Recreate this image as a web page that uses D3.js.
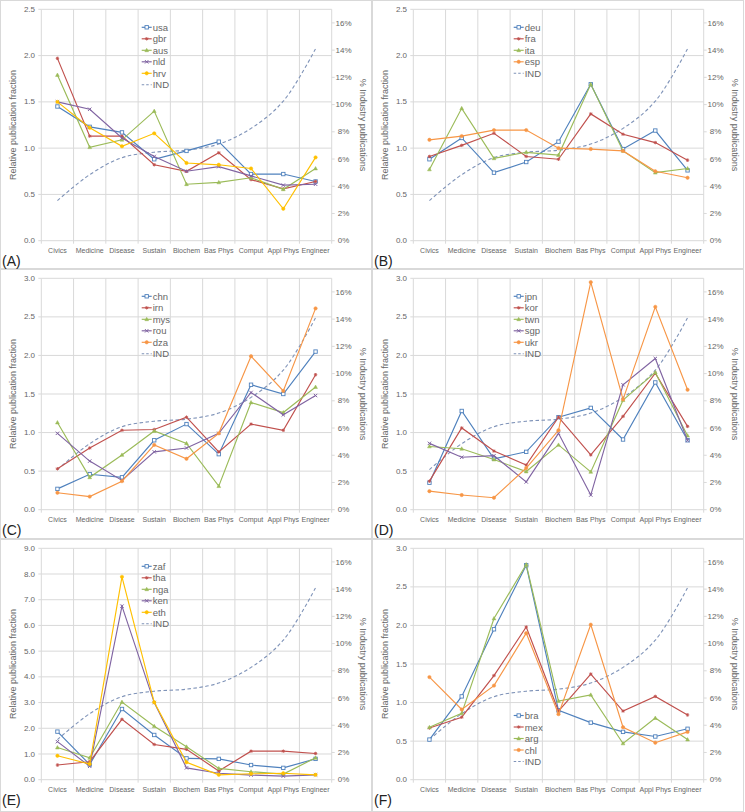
<!DOCTYPE html>
<html><head><meta charset="utf-8">
<script src="https://cdn.jsdelivr.net/npm/d3@7"></script>
<style>
html,body{margin:0;padding:0;background:#fff;}
svg{display:block;font-family:"Liberation Sans",Arial,sans-serif;}
</style></head>
<body><svg id="chart" width="745" height="812"></svg>
<script>
// ---------- data ----------
const categories = ["Civics","Medicine","Disease","Sustain","Biochem","Bas Phys","Comput","Appl Phys","Engineer"];
const indShare = [2.95, 4.85, 6.1, 6.5, 6.65, 7.1, 8.25, 10.25, 14.1]; // % industry publications

// Panel A
const usa = [1.45, 1.23, 1.17, 0.88, 0.97, 1.07, 0.72, 0.72, 0.64];
const gbr = [1.97, 1.13, 1.13, 0.82, 0.75, 0.95, 0.66, 0.56, 0.64];
const aus = [1.79, 1.01, 1.09, 1.40, 0.61, 0.63, 0.68, 0.555, 0.78];
const nld = [1.50, 1.42, 1.11, 0.91, 0.75, 0.80, 0.70, 0.60, 0.61];
const hrv = [1.50, 1.22, 1.02, 1.16, 0.84, 0.82, 0.78, 0.345, 0.90];
// Panel B
const deu = [0.88, 1.11, 0.735, 0.85, 1.07, 1.69, 0.99, 1.19, 0.76];
const fra = [0.91, 1.03, 1.16, 0.91, 0.88, 1.37, 1.15, 1.06, 0.87];
const ita = [0.77, 1.43, 0.89, 0.955, 0.925, 1.69, 0.97, 0.735, 0.78];
const esp = [1.09, 1.13, 1.195, 1.195, 1.00, 0.99, 0.97, 0.75, 0.68];
// Panel C
const chn = [0.27, 0.46, 0.42, 0.90, 1.11, 0.72, 1.62, 1.50, 2.05];
const irn = [0.53, 0.80, 1.03, 1.04, 1.20, 0.75, 1.11, 1.03, 1.75];
const mys = [1.13, 0.42, 0.71, 1.02, 0.86, 0.305, 1.39, 1.26, 1.59];
const rou = [0.99, 0.63, 0.38, 0.75, 0.80, 0.99, 1.52, 1.23, 1.48];
const dza = [0.22, 0.17, 0.37, 0.84, 0.66, 0.99, 1.99, 1.54, 2.61];
// Panel D
const jpn = [0.35, 1.28, 0.66, 0.75, 1.20, 1.32, 0.91, 1.65, 0.90];
const kor = [0.37, 1.06, 0.76, 0.58, 1.20, 0.71, 1.21, 1.77, 1.08];
const twn = [0.82, 0.79, 0.65, 0.495, 0.84, 0.49, 1.42, 1.78, 0.96];
const sgp = [0.86, 0.68, 0.70, 0.36, 0.99, 0.19, 1.62, 1.96, 0.90];
const ukr = [0.24, 0.19, 0.155, 0.54, 1.03, 2.95, 1.43, 2.63, 1.555];
// Panel E
const zaf = [1.87, 0.59, 2.75, 1.74, 0.83, 0.81, 0.57, 0.46, 0.81];
const tha = [0.57, 0.70, 2.35, 1.37, 1.18, 0.34, 1.11, 1.11, 1.02];
const nga = [1.25, 0.85, 3.02, 2.08, 1.28, 0.44, 0.31, 0.22, 0.85];
const ken = [1.48, 0.52, 6.75, 3.00, 0.46, 0.25, 0.18, 0.14, 0.19];
const eth = [0.93, 0.61, 7.89, 3.01, 0.68, 0.19, 0.23, 0.25, 0.19];
// Panel F
const bra = [0.52, 1.08, 1.95, 2.78, 0.90, 0.74, 0.62, 0.56, 0.66];
const mex = [0.67, 0.81, 1.35, 1.98, 0.89, 1.37, 0.89, 1.08, 0.84];
const arg = [0.68, 0.86, 2.09, 2.79, 1.02, 1.10, 0.47, 0.80, 0.52];
const chl = [1.33, 0.91, 1.22, 1.90, 0.85, 2.01, 0.68, 0.48, 0.62];

const leftTicksAB = [0, 0.5, 1.0, 1.5, 2.0, 2.5];
const leftTicks3 = [0, 0.5, 1.0, 1.5, 2.0, 2.5, 3.0];
const leftTicksE = [0, 1, 2, 3, 4, 5, 6, 7, 8, 9];
const rightTicks = [0, 2, 4, 6, 8, 10, 12, 14, 16];

// ---------- styling ----------
const C = {blue:"#4F81BD", red:"#C0504D", green:"#9BBB59", purple:"#8064A2", yellow:"#FFC000", orange:"#F79646", ind:"#7F93B8"};
const grid = "#d9d9d9", txt = "#666666";

const panels = [
  {label:"(A)", col:0, row:0, ticks:leftTicksAB, legendY:27.3, series:[
    ["usa", usa, C.blue, "square"], ["gbr", gbr, C.red, "plus"], ["aus", aus, C.green, "triangle"],
    ["nld", nld, C.purple, "cross"], ["hrv", hrv, C.yellow, "circle"]]},
  {label:"(B)", col:1, row:0, ticks:leftTicksAB, legendY:27.3, series:[
    ["deu", deu, C.blue, "square"], ["fra", fra, C.red, "plus"], ["ita", ita, C.green, "triangle"],
    ["esp", esp, C.orange, "circle"]]},
  {label:"(C)", col:0, row:1, ticks:leftTicks3, legendY:27.3, series:[
    ["chn", chn, C.blue, "square"], ["irn", irn, C.red, "plus"], ["mys", mys, C.green, "triangle"],
    ["rou", rou, C.purple, "cross"], ["dza", dza, C.orange, "circle"]]},
  {label:"(D)", col:1, row:1, ticks:leftTicks3, legendY:27.3, series:[
    ["jpn", jpn, C.blue, "square"], ["kor", kor, C.red, "plus"], ["twn", twn, C.green, "triangle"],
    ["sgp", sgp, C.purple, "cross"], ["ukr", ukr, C.orange, "circle"]]},
  {label:"(E)", col:0, row:2, ticks:leftTicksE, legendY:27.3, series:[
    ["zaf", zaf, C.blue, "square"], ["tha", tha, C.red, "plus"], ["nga", nga, C.green, "triangle"],
    ["ken", ken, C.purple, "cross"], ["eth", eth, C.yellow, "circle"]]},
  {label:"(F)", col:1, row:2, ticks:leftTicks3, legendY:176.5, series:[
    ["bra", bra, C.blue, "square"], ["mex", mex, C.red, "plus"], ["arg", arg, C.green, "triangle"],
    ["chl", chl, C.orange, "circle"]]}
];

const svg = d3.select("#chart");
const colX = [0, 372], rowY = [0, 269, 539], rowH = [269, 270, 273];

// panel borders
panels.forEach(p => {
  svg.append("rect").attr("x", colX[p.col] + 0.5).attr("y", rowY[p.row] + 0.5)
    .attr("width", 371).attr("height", rowH[p.row] - 1)
    .attr("fill", "none").attr("stroke", grid).attr("stroke-width", 1);
});

function marker(g, type, x, y, color) {
  const s = 1.7;
  if (type === "square") {
    g.append("rect").attr("x", x - s).attr("y", y - s).attr("width", 2*s).attr("height", 2*s)
      .attr("fill", "#fff").attr("stroke", color).attr("stroke-width", 0.9);
  } else if (type === "plus") {
    g.append("path").attr("d", `M${x-s},${y}H${x+s}M${x},${y-s}V${y+s}M${x-1.2},${y-1.2}L${x+1.2},${y+1.2}M${x-1.2},${y+1.2}L${x+1.2},${y-1.2}`)
      .attr("stroke", color).attr("stroke-width", 0.9);
  } else if (type === "triangle") {
    g.append("path").attr("d", `M${x},${y-2}L${x+1.9},${y+1.4}L${x-1.9},${y+1.4}Z`)
      .attr("fill", color).attr("stroke", color).attr("stroke-width", 0.5);
  } else if (type === "cross") {
    g.append("path").attr("d", `M${x-s},${y-s}L${x+s},${y+s}M${x-s},${y+s}L${x+s},${y-s}`)
      .attr("stroke", color).attr("stroke-width", 1);
  } else {
    g.append("circle").attr("cx", x).attr("cy", y).attr("r", 1.7)
      .attr("fill", color).attr("stroke", color).attr("stroke-width", 0.5);
  }
}

panels.forEach(p => {
  const ox = colX[p.col], oy = rowY[p.row];
  const L = ox + 41.3, R = ox + 331.7, T = oy + 9.3, B = oy + 240.7;
  const g = svg.append("g");
  const yMax = p.ticks[p.ticks.length - 1];
  const x = d3.scaleBand().domain(categories).range([L, R]).padding(0);
  const y = d3.scaleLinear().domain([0, yMax]).range([B, T]);
  const y2 = d3.scaleLinear().domain([0, 17]).range([B, T]);

  // horizontal gridlines
  g.append("g").selectAll("line").data(p.ticks).join("line")
    .attr("x1", L).attr("x2", R).attr("y1", d => y(d)).attr("y2", d => y(d))
    .attr("stroke", grid).attr("stroke-width", 1);
  // vertical gridlines at category boundaries
  const bounds = categories.map(c => x(c)).concat([R]);
  g.append("g").selectAll("line").data(bounds).join("line")
    .attr("x1", d => d).attr("x2", d => d).attr("y1", T).attr("y2", B + 3)
    .attr("stroke", grid).attr("stroke-width", 1);

  // left axis labels
  const fmt = d3.format(".1f");
  g.append("g").selectAll("text").data(p.ticks).join("text")
    .attr("x", ox + 35).attr("y", d => y(d) + 2.6).attr("text-anchor", "end")
    .attr("font-size", 8).attr("fill", txt).text(d => fmt(d));
  // right axis labels
  g.append("g").selectAll("text").data(rightTicks).join("text")
    .attr("x", ox + 343.5).attr("y", d => y2(d) + 2.6).attr("text-anchor", "middle")
    .attr("font-size", 8).attr("fill", txt).text(d => d + "%");
  g.append("g").selectAll("line").data(rightTicks).join("line")
    .attr("x1", R).attr("x2", R + 3).attr("y1", d => y2(d)).attr("y2", d => y2(d))
    .attr("stroke", grid);
  g.append("g").selectAll("line").data(p.ticks).join("line")
    .attr("x1", L - 3).attr("x2", L).attr("y1", d => y(d)).attr("y2", d => y(d))
    .attr("stroke", grid);

  // category labels
  g.append("g").selectAll("text").data(categories).join("text")
    .attr("x", d => x(d) + x.bandwidth() / 2).attr("y", B + 12.5).attr("text-anchor", "middle")
    .attr("font-size", 7).attr("fill", txt).text(d => d);

  // axis titles
  g.append("text").attr("transform", `translate(${ox + 16},${(T + B) / 2}) rotate(-90)`)
    .attr("text-anchor", "middle").attr("font-size", 9).attr("fill", txt).text("Relative publication fraction");
  g.append("text").attr("transform", `translate(${ox + 360},${(T + B) / 2}) rotate(90)`)
    .attr("text-anchor", "middle").attr("font-size", 9).attr("fill", txt).text("% Industry publications");

  // panel label
  g.append("text").attr("x", ox + 2).attr("y", oy + 266).attr("font-size", 14).attr("fill", "#222").text(p.label);

  const cx = d => x(d) + x.bandwidth() / 2;

  // IND dashed smooth line
  const indLine = d3.line().x((d, i) => cx(categories[i])).y(d => y2(d)).curve(d3.curveCatmullRom.alpha(0.5));
  g.append("path").attr("d", indLine(indShare)).attr("fill", "none").attr("stroke", C.ind)
    .attr("stroke-width", 1.1).attr("stroke-dasharray", "3.5,2.5");

  // series
  const line = d3.line().x((d, i) => cx(categories[i])).y(d => y(d));
  p.series.forEach(([name, vals, color, mk]) => {
    g.append("path").attr("d", line(vals)).attr("fill", "none").attr("stroke", color).attr("stroke-width", 1.15);
    const mg = g.append("g");
    vals.forEach((v, i) => marker(mg, mk, cx(categories[i]), y(v), color));
  });

  // legend
  const lg = g.append("g");
  const lx = ox + 141.7, step = 11.5;
  p.series.forEach(([name, vals, color, mk], i) => {
    const ly = oy + p.legendY + i * step;
    lg.append("line").attr("x1", lx).attr("x2", lx + 10).attr("y1", ly).attr("y2", ly)
      .attr("stroke", color).attr("stroke-width", 1.15);
    marker(lg, mk, lx + 5, ly, color);
    lg.append("text").attr("x", lx + 11).attr("y", ly + 3.5).attr("font-size", 9.5).attr("fill", txt).text(name);
  });
  const ly = oy + p.legendY + p.series.length * step;
  lg.append("line").attr("x1", lx).attr("x2", lx + 10).attr("y1", ly).attr("y2", ly)
    .attr("stroke", C.ind).attr("stroke-width", 1.1).attr("stroke-dasharray", "2.5,2");
  lg.append("text").attr("x", lx + 11).attr("y", ly + 3.5).attr("font-size", 9.5).attr("fill", txt).text("IND");
});
</script></body></html>
